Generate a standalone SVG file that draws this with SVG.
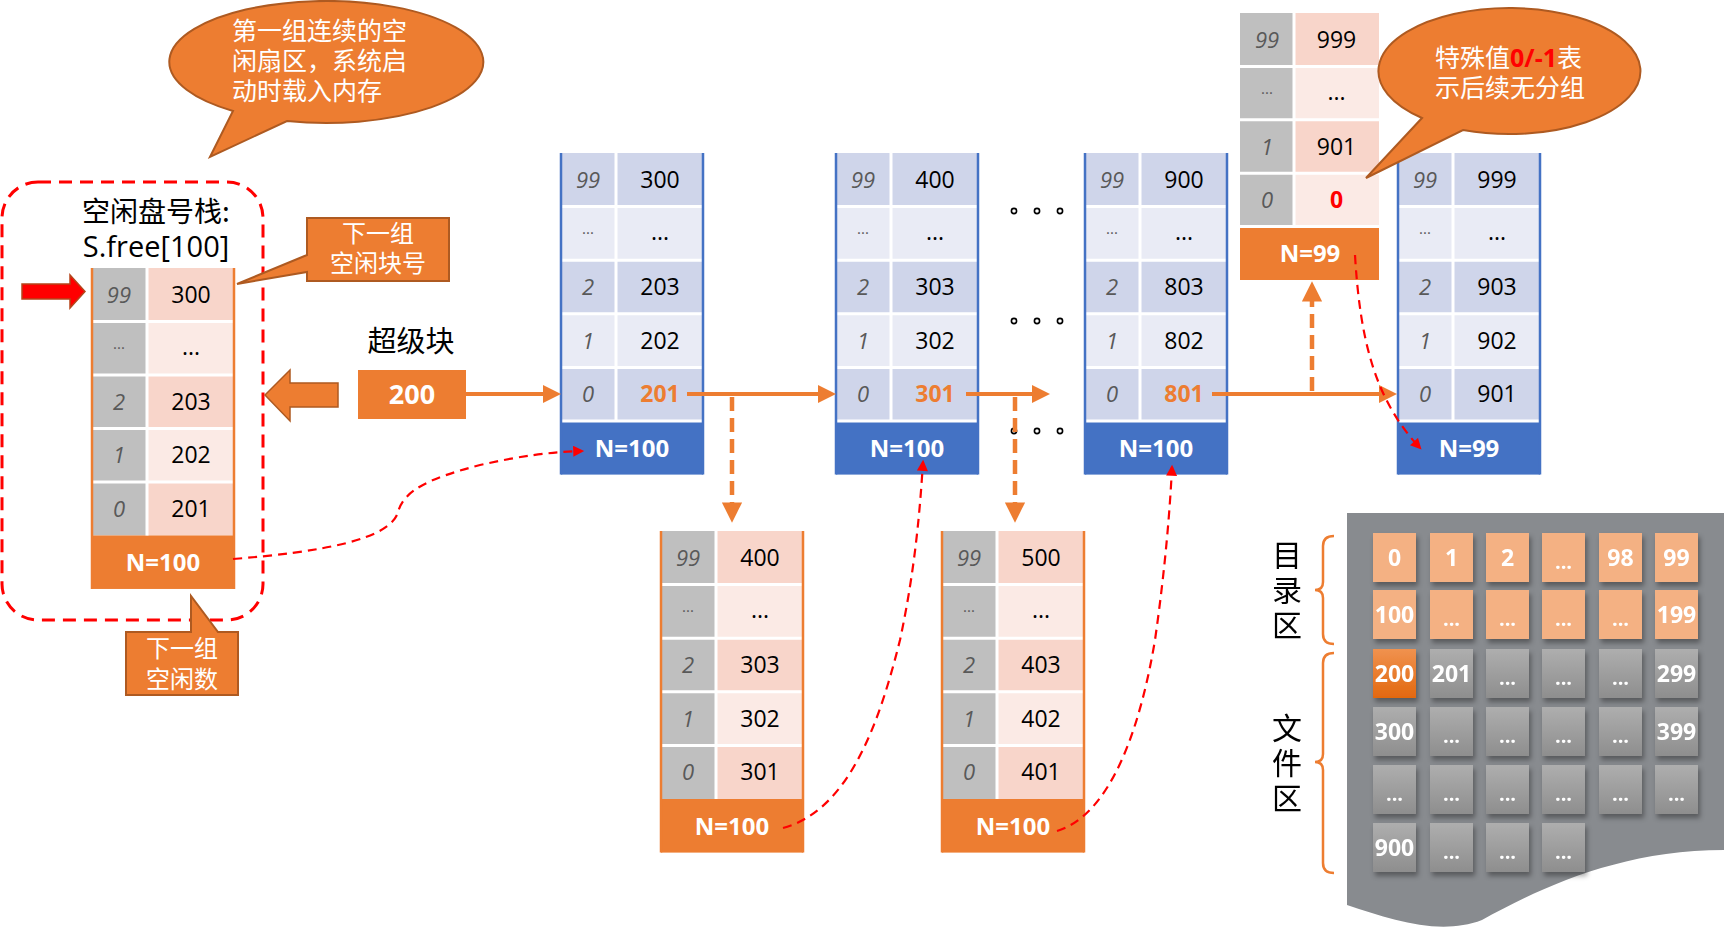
<svg xmlns="http://www.w3.org/2000/svg" xmlns:xlink="http://www.w3.org/1999/xlink" width="1724" height="928" viewBox="0 0 1724 928">
<style>
text{font-family:"Open Sans","Noto Sans CJK SC",sans-serif}
.cjk{font-family:"Noto Sans CJK SC",sans-serif}
.idx{font-style:italic;font-size:22px;fill:#595959;text-anchor:middle}
.idd{font-size:15px;fill:#595959;text-anchor:middle}
.val{font-size:23px;fill:#000;text-anchor:middle}
.vo{font-size:23px;font-weight:bold;fill:#ED7D31;text-anchor:middle}
.vr{font-size:23px;font-weight:bold;fill:#FF0000;text-anchor:middle}
.nt{font-size:24px;font-weight:bold;fill:#fff;text-anchor:middle}
.ct{font-size:25px;fill:#fff}
.gt{font-size:23px;font-weight:bold;fill:#fff;text-anchor:middle}
.gd{font-size:20px;font-weight:bold;fill:#fff;text-anchor:middle}
.vt{font-family:"Noto Sans CJK SC",sans-serif;font-size:30px;writing-mode:vertical-rl;letter-spacing:5px}
.call{fill:#ED7D31;stroke:#AE5A21;stroke-width:2}
.oa{fill:none;stroke:#ED7D31;stroke-width:4;marker-end:url(#ah)}
.od{fill:none;stroke:#ED7D31;stroke-width:4.5;stroke-dasharray:14 7;marker-end:url(#ah)}
.rd{fill:none;stroke:#FF0000;stroke-width:2.2;stroke-dasharray:9 6;marker-end:url(#rh)}
.dot{fill:#fff;stroke:#000;stroke-width:1.6}
.go{fill:#F4B183}
.gg{fill:url(#gg)}
.gr{fill:url(#gor)}
.br{fill:none;stroke:#ED7D31;stroke-width:2.5}
</style>
<defs>
<marker id="ah" viewBox="0 0 10 10" refX="7" refY="5" markerWidth="4.5" markerHeight="4.5" orient="auto" markerUnits="strokeWidth"><path d="M0,0L10,5L0,10Z" fill="#ED7D31"/></marker>
<marker id="rh" viewBox="0 0 10 10" refX="8" refY="5" markerWidth="5.5" markerHeight="5" orient="auto" markerUnits="strokeWidth"><path d="M0,0L10,5L0,10Z" fill="#FF0000"/></marker>
<linearGradient id="gg" x1="0" y1="0" x2="0" y2="1"><stop offset="0" stop-color="#AEAEAE"/><stop offset="1" stop-color="#8E8E8E"/></linearGradient>
<linearGradient id="gor" x1="0" y1="0" x2="0" y2="1"><stop offset="0" stop-color="#F0924F"/><stop offset="1" stop-color="#E2680F"/></linearGradient>
<filter id="sh" x="-30%" y="-30%" width="170%" height="170%"><feDropShadow dx="2" dy="4" stdDeviation="2.5" flood-color="#000" flood-opacity="0.35"/></filter>
<g id="tB">
<rect x="0" y="0" width="142" height="53.6" fill="#CFD5EA"/>
<rect x="0" y="53.6" width="142" height="53.6" fill="#E9EBF5"/>
<rect x="0" y="107.2" width="142" height="53.6" fill="#CFD5EA"/>
<rect x="0" y="160.8" width="142" height="53.6" fill="#E9EBF5"/>
<rect x="0" y="214.4" width="142" height="53.6" fill="#CFD5EA"/>
<rect x="0" y="268" width="142" height="53.6" fill="#4472C4"/>
<path d="M55,0V268M0,53.6H142M0,107.2H142M0,160.8H142M0,214.4H142M0,268H142" stroke="#fff" stroke-width="3"/>
<path d="M0,0V321.6M142,0V321.6" stroke="#4472C4" stroke-width="2.5"/>
</g>
<g id="tP">
<rect x="0" y="0" width="55" height="268" fill="#BFBFBF"/>
<rect x="55" y="0" width="87" height="53.6" fill="#F8D5CA"/>
<rect x="55" y="53.6" width="87" height="53.6" fill="#FBEAE5"/>
<rect x="55" y="107.2" width="87" height="53.6" fill="#F8D5CA"/>
<rect x="55" y="160.8" width="87" height="53.6" fill="#FBEAE5"/>
<rect x="55" y="214.4" width="87" height="53.6" fill="#F8D5CA"/>
<rect x="0" y="268" width="142" height="53.6" fill="#ED7D31"/>
<path d="M55,0V268M0,53.6H142M0,107.2H142M0,160.8H142M0,214.4H142" stroke="#fff" stroke-width="3"/>
<path d="M0,0V321.6M142,0V321.6" stroke="#ED7D31" stroke-width="2.5"/>
</g>
<rect id="c" width="43" height="49"/>
</defs>

<rect width="1724" height="928" fill="#fff"/>

<!-- callout: first group -->
<g id="callout-first">
<path class="call" d="M233,111A157,61 0 1 1 287,121L210,157Z"/>
<text class="ct cjk" x="232" y="40">第一组连续的空<tspan x="232" dy="30">闲扇区，系统启</tspan><tspan x="232" dy="30">动时载入内存</tspan></text>
</g>

<!-- free stack -->
<g id="free-stack">
<rect x="2" y="182" width="261" height="438" rx="36" fill="none" stroke="#FF0000" stroke-width="3" stroke-dasharray="13 8"/>
<text x="156" y="222" font-size="28" text-anchor="middle"><tspan class="cjk">空闲盘号栈:</tspan><tspan x="156" dy="35" font-size="29">S.free[100]</tspan></text>
<g transform="translate(92,268) scale(1,0.998)">
<use href="#tP"/>
<text class="idx" x="27" y="34.8">99</text><text class="val" x="99" y="34.8">300</text>
<text class="idd" x="27" y="85.4">···</text><text class="val" x="99" y="87.4">...</text>
<text class="idx" x="27" y="142">2</text><text class="val" x="99" y="142">203</text>
<text class="idx" x="27" y="195.6">1</text><text class="val" x="99" y="195.6">202</text>
<text class="idx" x="27" y="249.2">0</text><text class="val" x="99" y="249.2">201</text>
<text class="nt" x="71" y="303.6">N=100</text>
</g>
</g>

<g id="red-pointer">
<path d="M22,284H70V275L85,291.5L70,308V299H22Z" fill="#FF0000" stroke="#B5451B" stroke-width="1.5"/>
</g>

<g id="callout-next-block">
<path class="call" d="M307,218H449V281H307V272L237,284L307,255Z"/>
<text class="cjk" x="378" y="242" font-size="24" fill="#fff" text-anchor="middle">下一组<tspan x="378" dy="30">空闲块号</tspan></text>
</g>

<g id="callout-next-count">
<path class="call" d="M126,632H191V596L218,632H238V695H126Z"/>
<text class="cjk" x="182" y="657" font-size="24" fill="#fff" text-anchor="middle">下一组<tspan x="182" dy="31">空闲数</tspan></text>
</g>

<g id="load-arrow">
<path d="M265,395L290,370V383H338V407H290V421Z" fill="#ED7D31" stroke="#AE5A21" stroke-width="1.5"/>
</g>

<g id="superblock">
<text class="cjk" x="411" y="352" font-size="29" text-anchor="middle">超级块</text>
<rect x="358" y="370" width="108" height="49" fill="#ED7D31"/>
<text x="412" y="404" font-size="27" font-weight="bold" fill="#fff" text-anchor="middle">200</text>
</g>

<g id="block-201" transform="translate(561,153)">
<use href="#tB"/>
<text class="idx" x="27" y="34.8">99</text><text class="val" x="99" y="34.8">300</text>
<text class="idd" x="27" y="85.4">···</text><text class="val" x="99" y="87.4">...</text>
<text class="idx" x="27" y="142">2</text><text class="val" x="99" y="142">203</text>
<text class="idx" x="27" y="195.6">1</text><text class="val" x="99" y="195.6">202</text>
<text class="idx" x="27" y="249.2">0</text><text class="vo" x="99" y="249.2">201</text>
<text class="nt" x="71" y="303.6">N=100</text>
</g>

<g id="block-301" transform="translate(836,153)">
<use href="#tB"/>
<text class="idx" x="27" y="34.8">99</text><text class="val" x="99" y="34.8">400</text>
<text class="idd" x="27" y="85.4">···</text><text class="val" x="99" y="87.4">...</text>
<text class="idx" x="27" y="142">2</text><text class="val" x="99" y="142">303</text>
<text class="idx" x="27" y="195.6">1</text><text class="val" x="99" y="195.6">302</text>
<text class="idx" x="27" y="249.2">0</text><text class="vo" x="99" y="249.2">301</text>
<text class="nt" x="71" y="303.6">N=100</text>
</g>

<g id="block-801" transform="translate(1085,153)">
<use href="#tB"/>
<text class="idx" x="27" y="34.8">99</text><text class="val" x="99" y="34.8">900</text>
<text class="idd" x="27" y="85.4">···</text><text class="val" x="99" y="87.4">...</text>
<text class="idx" x="27" y="142">2</text><text class="val" x="99" y="142">803</text>
<text class="idx" x="27" y="195.6">1</text><text class="val" x="99" y="195.6">802</text>
<text class="idx" x="27" y="249.2">0</text><text class="vo" x="99" y="249.2">801</text>
<text class="nt" x="71" y="303.6">N=100</text>
</g>

<g id="block-901" transform="translate(1398,153)">
<use href="#tB"/>
<text class="idx" x="27" y="34.8">99</text><text class="val" x="99" y="34.8">999</text>
<text class="idd" x="27" y="85.4">···</text><text class="val" x="99" y="87.4">...</text>
<text class="idx" x="27" y="142">2</text><text class="val" x="99" y="142">903</text>
<text class="idx" x="27" y="195.6">1</text><text class="val" x="99" y="195.6">902</text>
<text class="idx" x="27" y="249.2">0</text><text class="val" x="99" y="249.2">901</text>
<text class="nt" x="71" y="303.6">N=99</text>
</g>

<g id="block-301-copy" transform="translate(661,531)">
<use href="#tP"/>
<text class="idx" x="27" y="34.8">99</text><text class="val" x="99" y="34.8">400</text>
<text class="idd" x="27" y="85.4">···</text><text class="val" x="99" y="87.4">...</text>
<text class="idx" x="27" y="142">2</text><text class="val" x="99" y="142">303</text>
<text class="idx" x="27" y="195.6">1</text><text class="val" x="99" y="195.6">302</text>
<text class="idx" x="27" y="249.2">0</text><text class="val" x="99" y="249.2">301</text>
<text class="nt" x="71" y="303.6">N=100</text>
</g>

<g id="block-401-copy" transform="translate(942,531)">
<use href="#tP"/>
<text class="idx" x="27" y="34.8">99</text><text class="val" x="99" y="34.8">500</text>
<text class="idd" x="27" y="85.4">···</text><text class="val" x="99" y="87.4">...</text>
<text class="idx" x="27" y="142">2</text><text class="val" x="99" y="142">403</text>
<text class="idx" x="27" y="195.6">1</text><text class="val" x="99" y="195.6">402</text>
<text class="idx" x="27" y="249.2">0</text><text class="val" x="99" y="249.2">401</text>
<text class="nt" x="71" y="303.6">N=100</text>
</g>

<g id="block-901-copy" transform="translate(1240,13)">
<rect x="0" y="0" width="54" height="213.6" fill="#BFBFBF"/>
<rect x="54" y="0" width="85" height="53.4" fill="#F8D5CA"/>
<rect x="54" y="53.4" width="85" height="53.4" fill="#FBEAE5"/>
<rect x="54" y="106.8" width="85" height="53.4" fill="#F8D5CA"/>
<rect x="54" y="160.2" width="85" height="53.4" fill="#FBEAE5"/>
<rect x="0" y="213.6" width="139" height="53.4" fill="#ED7D31"/>
<path d="M54,0V213.6M0,53.4H139M0,106.8H139M0,160.2H139M0,213.6H139" stroke="#fff" stroke-width="3"/>
<text class="idx" x="27" y="34.7">99</text><text class="val" x="96.5" y="34.7">999</text>
<text class="idd" x="27" y="85.1">···</text><text class="val" x="96.5" y="87.1">...</text>
<text class="idx" x="27" y="141.5">1</text><text class="val" x="96.5" y="141.5">901</text>
<text class="idx" x="27" y="194.9">0</text><text class="vr" x="96.5" y="194.9">0</text>
<text class="nt" x="70" y="249.3">N=99</text>
</g>

<g id="callout-special">
<path class="call" d="M1422,118A131,63 0 1 1 1463,130L1366,178Z"/>
<text class="ct" x="1435" y="67"><tspan class="cjk">特殊值</tspan><tspan font-weight="bold" fill="#FF0000">0/-1</tspan><tspan class="cjk">表</tspan><tspan class="cjk" x="1435" dy="30">示后续无分组</tspan></text>
</g>

<g id="ellipsis-dots">
<circle class="dot" cx="1014" cy="211" r="2.6"/><circle class="dot" cx="1037" cy="211" r="2.6"/><circle class="dot" cx="1060" cy="211" r="2.6"/>
<circle class="dot" cx="1014" cy="321" r="2.6"/><circle class="dot" cx="1037" cy="321" r="2.6"/><circle class="dot" cx="1060" cy="321" r="2.6"/>
<circle class="dot" cx="1014" cy="431" r="2.6"/><circle class="dot" cx="1037" cy="431" r="2.6"/><circle class="dot" cx="1060" cy="431" r="2.6"/>
</g>

<g id="connectors">
<path class="oa" d="M466,394H555.6"/>
<path class="oa" d="M687,394H830.6"/>
<path class="oa" d="M966,394H1044.6"/>
<path class="oa" d="M1212,394H1391.6"/>
<path class="od" d="M732,397V516.6"/>
<path class="od" d="M1015,397V516.6"/>
<path class="od" d="M1312,391V287.4"/>
<path class="rd" d="M233,559C320,552 390,540 398,512C404,490 430,478 480,465C520,456 550,452 582,451"/>
<path class="rd" d="M783,828C850,810 880,720 900,640C915,570 920,510 923,462"/>
<path class="rd" d="M1057,831C1110,815 1140,730 1155,640C1165,570 1170,510 1172,467"/>
<path class="rd" d="M1355,255C1360,340 1375,400 1420,448"/>
</g>

<g id="disk">
<path d="M1347,513H1724V850C1620,850 1540,888 1482,920C1440,936 1392,920 1347,905Z" fill="#888B8F"/>
<g filter="url(#sh)">
<use href="#c" class="go" x="1373" y="533"/><use href="#c" class="go" x="1430" y="533"/><use href="#c" class="go" x="1486" y="533"/><use href="#c" class="go" x="1542" y="533"/><use href="#c" class="go" x="1599" y="533"/><use href="#c" class="go" x="1655" y="533"/>
<use href="#c" class="go" x="1373" y="590"/><use href="#c" class="go" x="1430" y="590"/><use href="#c" class="go" x="1486" y="590"/><use href="#c" class="go" x="1542" y="590"/><use href="#c" class="go" x="1599" y="590"/><use href="#c" class="go" x="1655" y="590"/>
<use href="#c" class="gr" x="1373" y="649"/><use href="#c" class="gg" x="1430" y="649"/><use href="#c" class="gg" x="1486" y="649"/><use href="#c" class="gg" x="1542" y="649"/><use href="#c" class="gg" x="1599" y="649"/><use href="#c" class="gg" x="1655" y="649"/>
<use href="#c" class="gg" x="1373" y="707"/><use href="#c" class="gg" x="1430" y="707"/><use href="#c" class="gg" x="1486" y="707"/><use href="#c" class="gg" x="1542" y="707"/><use href="#c" class="gg" x="1599" y="707"/><use href="#c" class="gg" x="1655" y="707"/>
<use href="#c" class="gg" x="1373" y="765"/><use href="#c" class="gg" x="1430" y="765"/><use href="#c" class="gg" x="1486" y="765"/><use href="#c" class="gg" x="1542" y="765"/><use href="#c" class="gg" x="1599" y="765"/><use href="#c" class="gg" x="1655" y="765"/>
<use href="#c" class="gg" x="1373" y="823"/><use href="#c" class="gg" x="1430" y="823"/><use href="#c" class="gg" x="1486" y="823"/><use href="#c" class="gg" x="1542" y="823"/>
</g>
<text class="gt" x="1394.5" y="565.5">0</text><text class="gt" x="1451.5" y="565.5">1</text><text class="gt" x="1507.5" y="565.5">2</text><text class="gd" x="1563.5" y="569">...</text><text class="gt" x="1620.5" y="565.5">98</text><text class="gt" x="1676.5" y="565.5">99</text>
<text class="gt" x="1394.5" y="622.5">100</text><text class="gd" x="1451.5" y="626">...</text><text class="gd" x="1507.5" y="626">...</text><text class="gd" x="1563.5" y="626">...</text><text class="gd" x="1620.5" y="626">...</text><text class="gt" x="1676.5" y="622.5">199</text>
<text class="gt" x="1394.5" y="681.5">200</text><text class="gt" x="1451.5" y="681.5">201</text><text class="gd" x="1507.5" y="685">...</text><text class="gd" x="1563.5" y="685">...</text><text class="gd" x="1620.5" y="685">...</text><text class="gt" x="1676.5" y="681.5">299</text>
<text class="gt" x="1394.5" y="739.5">300</text><text class="gd" x="1451.5" y="743">...</text><text class="gd" x="1507.5" y="743">...</text><text class="gd" x="1563.5" y="743">...</text><text class="gd" x="1620.5" y="743">...</text><text class="gt" x="1676.5" y="739.5">399</text>
<text class="gd" x="1394.5" y="801">...</text><text class="gd" x="1451.5" y="801">...</text><text class="gd" x="1507.5" y="801">...</text><text class="gd" x="1563.5" y="801">...</text><text class="gd" x="1620.5" y="801">...</text><text class="gd" x="1676.5" y="801">...</text>
<text class="gt" x="1394.5" y="855.5">900</text><text class="gd" x="1451.5" y="859">...</text><text class="gd" x="1507.5" y="859">...</text><text class="gd" x="1563.5" y="859">...</text>
</g>

<g id="zone-dir">
<path class="br" d="M1334,536Q1323,536 1323,546V582Q1323,590 1315,590Q1323,590 1323,598V634Q1323,644 1334,644"/>
<text class="vt" x="1287" y="540">目录区</text>
</g>
<g id="zone-file">
<path class="br" d="M1334,653Q1323,653 1323,663V754Q1323,762 1315,762Q1323,762 1323,770V863Q1323,873 1334,873"/>
<text class="vt" x="1287" y="713">文件区</text>
</g>
</svg>
